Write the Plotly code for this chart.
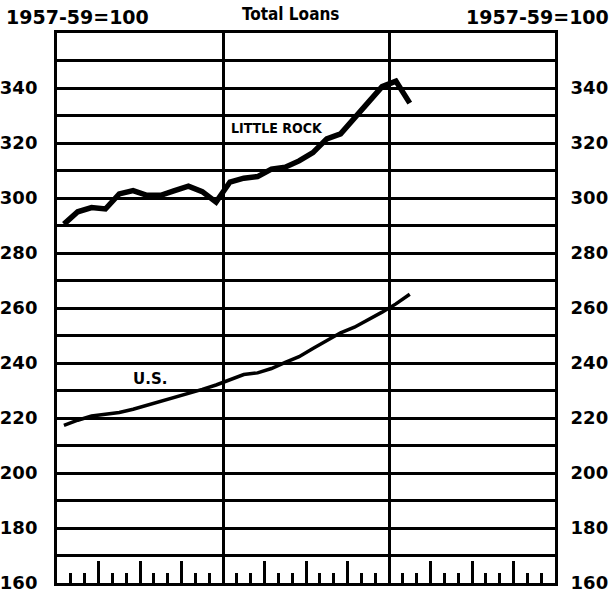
import plotly.graph_objects as go

# Month positions (mid-month) across three years, 0..36 on the axis
months = [i + 0.5 for i in range(26)]

little_rock = [290.5, 295.0, 296.5, 296.0, 301.5, 302.7, 301.0, 301.0, 302.7, 304.3,
               302.3, 298.5, 305.8, 307.2, 307.8, 310.5, 311.2, 313.5, 316.5, 321.5,
               323.3, 328.8, 335.0, 340.5, 342.5, 334.5]

us = [217.3, 219.2, 220.7, 221.3, 222.0, 223.2, 224.6, 226.0, 227.5, 228.9,
      230.4, 232.0, 234.0, 235.8, 236.4, 238.0, 240.2, 242.3, 245.3, 248.2,
      251.0, 253.0, 255.6, 258.5, 261.5, 265.0]

y_tick_vals = list(range(160, 361, 10))
y_tick_text = [str(v) if (v % 20 == 0 and v < 360) else "" for v in y_tick_vals]
quarter_ticks = list(range(0, 37, 3))
year_dividers = [12, 24]

FONT = "DejaVu Sans"
FONT_C = "DejaVu Sans Condensed"

W, H = 616, 601
ML, MR, MT, MB = 57, 61, 33, 18
PW, PH = W - ML - MR, H - MT - MB

def px_to_paper(px, py):
    return (px - ML) / PW, (H - py - MB) / PH

fig = go.Figure()
fig.add_trace(go.Scatter(x=months, y=little_rock, mode="lines",
                         line=dict(color="black", width=5.5), showlegend=False,
                         hoverinfo="skip"))
fig.add_trace(go.Scatter(x=months, y=us, mode="lines",
                         line=dict(color="black", width=3.5), showlegend=False,
                         hoverinfo="skip"))
# invisible trace for right axis
fig.add_trace(go.Scatter(x=months, y=us, mode="lines", yaxis="y2", xaxis="x2",
                         line=dict(color="rgba(0,0,0,0)", width=0), showlegend=False,
                         hoverinfo="skip"))

tl = px_to_paper(4, 17)
tr = px_to_paper(611, 17)
tc = px_to_paper(290, 14)

fig.update_layout(
    width=W, height=H,
    margin=dict(l=ML, r=MR, t=MT, b=MB, autoexpand=False),
    paper_bgcolor="white", plot_bgcolor="white",
    font=dict(family=FONT, color="black"),
    xaxis=dict(range=[0, 36], tickvals=quarter_ticks, ticks="inside", ticklen=22,
               tickwidth=2.5, tickcolor="black", showticklabels=False, showgrid=False,
               zeroline=False, showline=True, linewidth=3, linecolor="black", mirror=True,
               automargin=False,
               minor=dict(dtick=1, ticks="inside", ticklen=10, tickwidth=2.5,
                          tickcolor="black", showgrid=False)),
    xaxis2=dict(range=[0, 36], overlaying="x", anchor="y", side="bottom",
                tickvals=year_dividers, ticks="", showticklabels=False,
                showgrid=True, gridcolor="black", gridwidth=2.5, zeroline=False,
                showline=False, automargin=False),
    yaxis=dict(range=[160, 360], tickvals=y_tick_vals, ticktext=y_tick_text,
               ticks="outside", ticklen=13, tickcolor="rgba(0,0,0,0)",
               tickfont=dict(family=FONT, size=18, color="black", weight="bold"),
               showgrid=True, gridcolor="black", gridwidth=2.5, zeroline=False,
               showline=True, linewidth=3, linecolor="black", mirror=True,
               automargin=False),
    yaxis2=dict(range=[160, 360], overlaying="y", side="right", anchor="x",
                tickvals=y_tick_vals, ticktext=y_tick_text,
                ticks="outside", ticklen=11, tickcolor="rgba(0,0,0,0)",
                tickfont=dict(family=FONT, size=18, color="black", weight="bold"),
                showgrid=False, zeroline=False, showline=False, automargin=False),
    annotations=[
        dict(text="1957-59=100", x=tl[0], y=tl[1], xref="paper", yref="paper",
             showarrow=False, xanchor="left", yanchor="middle",
             font=dict(family=FONT, size=19, weight="bold")),
        dict(text="1957-59=100", x=tr[0], y=tr[1], xref="paper", yref="paper",
             showarrow=False, xanchor="right", yanchor="middle",
             font=dict(family=FONT, size=19, weight="bold")),
        dict(text="Total Loans", x=tc[0], y=tc[1], xref="paper", yref="paper",
             showarrow=False, xanchor="center", yanchor="middle",
             font=dict(family=FONT_C, size=17, weight="bold")),
        dict(text="LITTLE ROCK", x=15.9, y=325.5, xref="x", yref="y",
             showarrow=False, xanchor="center", yanchor="middle",
             font=dict(family=FONT_C, size=14, weight="bold")),
        dict(text="U.S.", x=6.7, y=234.2, xref="x", yref="y",
             showarrow=False, xanchor="center", yanchor="middle",
             font=dict(family=FONT, size=15, weight="bold")),
    ],
)

fig.write_html("out.html", config={"displayModeBar": False},
               post_script="document.body.style.margin='0';document.body.style.padding='0';")
